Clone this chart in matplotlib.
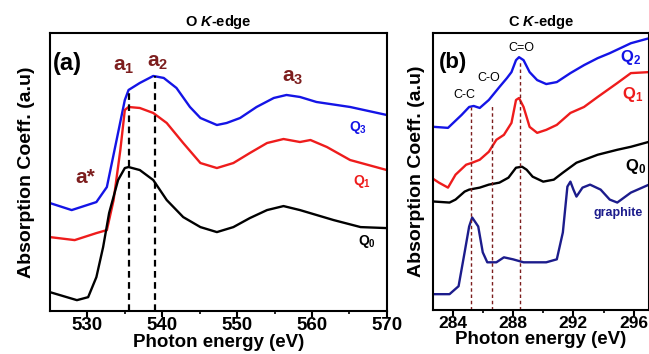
import numpy as np
import matplotlib
matplotlib.use("Agg")
import matplotlib.pyplot as plt

plt.rcParams["font.family"] = ["Liberation Sans", "DejaVu Sans"]
plt.rcParams["mathtext.fontset"] = "custom"
plt.rcParams["mathtext.rm"] = "Liberation Sans"
plt.rcParams["mathtext.bf"] = "Liberation Sans:bold"
plt.rcParams["mathtext.it"] = "Liberation Sans:italic"
plt.rcParams["mathtext.bfit"] = "Liberation Sans:italic:bold"

# ---- O K-edge (panel a) ----
e_q3 = [525.0, 527.9, 531.2, 532.6, 533.9, 535.0, 535.5, 537.0, 538.8, 540.2,
        541.9, 543.7, 545.1, 547.3, 548.6, 550.4, 552.6, 554.9, 556.6, 558.4,
        560.6, 565.1, 570.0]
a_q3 = [108, 101, 109, 124, 171, 211, 221, 228, 235, 233, 223, 204, 193, 186,
        188, 193, 204, 213, 216, 214, 209, 204, 196]

e_q1 = [525.0, 528.3, 531.2, 532.6, 533.5, 534.4, 535.0, 535.5, 537.0, 538.8,
        540.6, 542.8, 545.1, 547.3, 549.5, 551.7, 554.0, 556.2, 558.4, 559.8,
        562.0, 565.1, 570.0]
a_q1 = [74, 71, 78, 81, 111, 161, 201, 204, 203, 198, 188, 168, 148, 143, 148,
        158, 168, 172, 169, 171, 164, 151, 141]

e_q0 = [525.0, 528.6, 530.1, 531.2, 532.1, 532.9, 534.1, 535.0, 535.5, 537.0,
        538.8, 540.6, 542.8, 545.1, 547.3, 549.5, 551.7, 554.0, 556.2, 558.4,
        562.9, 566.5, 570.0]
a_q0 = [19, 11, 14, 34, 64, 98, 131, 143, 144, 141, 131, 111, 94, 84, 79, 84,
        93, 101, 105, 101, 91, 84, 83]

o_marks = [535.5, 539.0]
o_mark_tops = [219, 235]

# ---- C K-edge (panel b) ----
e_c2 = [282.8, 283.7, 284.6, 285.1, 285.4, 285.8, 286.4, 287.1, 287.6, 287.9,
        288.2, 288.4, 288.7, 289.1, 289.6, 290.2, 290.9, 291.8, 292.7, 293.6,
        294.4, 295.8, 297.0]
c_q2 = [184, 183, 196, 204, 205, 203, 211, 224, 233, 239, 251, 254, 251, 239,
        231, 227, 229, 238, 246, 253, 258, 268, 273]

e_c1 = [282.8, 283.1, 283.7, 284.2, 284.9, 285.3, 285.8, 286.4, 286.9, 287.4,
        287.9, 288.2, 288.4, 288.7, 289.1, 289.6, 290.2, 290.9, 291.8, 292.7,
        293.6, 294.9, 295.8, 297.0]
c_q1 = [131, 128, 123, 136, 146, 148, 151, 159, 171, 176, 188, 211, 213, 204,
        184, 178, 181, 186, 198, 204, 214, 228, 238, 239]

e_c0 = [282.8, 283.8, 284.2, 284.8, 285.1, 285.8, 286.4, 287.1, 287.7, 288.2,
        288.6, 288.9, 289.3, 290.0, 290.7, 291.3, 292.2, 293.6, 294.9, 295.8,
        297.0]
c_q0 = [109, 108, 111, 119, 121, 123, 126, 128, 133, 143, 144, 141, 134, 129,
        131, 138, 148, 156, 161, 164, 169]

e_gr = [282.8, 283.8, 284.4, 284.8, 285.1, 285.3, 285.7, 286.0, 286.3, 286.9,
        287.4, 288.0, 288.7, 289.6, 290.2, 290.9, 291.3, 291.6, 291.8, 292.0,
        292.2, 292.6, 293.1, 293.8, 294.4, 294.9, 295.8, 297.0]
c_gr = [16, 16, 24, 58, 84, 93, 84, 58, 48, 48, 53, 51, 48, 48, 48, 51, 78,
        124, 129, 121, 114, 123, 126, 121, 111, 108, 118, 126]

c_marks = [285.25, 286.6, 288.45]
c_mark_tops = [204, 206, 251]

BLUE = "#1414e6"
RED = "#ee1c1c"
NAVY = "#1c1c8c"
MAROON = "#7d1e1e"

fig = plt.figure(figsize=(6.49, 3.54), dpi=100)
ax1 = fig.add_axes([0.077, 0.121, 0.519, 0.786])
ax2 = fig.add_axes([0.667, 0.124, 0.333, 0.782])

lw = 1.7
ax1.plot(e_q3, a_q3, color=BLUE, lw=lw)
ax1.plot(e_q1, a_q1, color=RED, lw=lw)
ax1.plot(e_q0, a_q0, color="black", lw=lw)
for xm, ym in zip(o_marks, o_mark_tops):
    ax1.plot([xm, xm], [0, ym], color="black", lw=1.6, ls=(0, (3, 2)))

ax1.text(529.7, 134, "a*", color=MAROON, fontsize=15, fontweight="bold",
         ha="center", va="center")
ax1.text(534.9, 244, r"a$_\mathbf{1}$", color=MAROON, fontsize=15,
         fontweight="bold", ha="center", va="center")
ax1.text(539.4, 248, r"a$_\mathbf{2}$", color=MAROON, fontsize=15,
         fontweight="bold", ha="center", va="center")
ax1.text(557.4, 233, r"a$_\mathbf{3}$", color=MAROON, fontsize=15,
         fontweight="bold", ha="center", va="center")
ax1.text(566.1, 184, r"$\mathbf{Q_3}$", color=BLUE, fontsize=10,
         ha="center", va="center")
ax1.text(566.7, 130, r"$\mathbf{Q_1}$", color=RED, fontsize=10,
         ha="center", va="center")
ax1.text(567.3, 70, r"$\mathbf{Q_0}$", color="black", fontsize=10,
         ha="center", va="center")
ax1.text(0.01, 0.89, "(a)", transform=ax1.transAxes, fontsize=17,
         fontweight="bold", va="center")

ax1.set_xlim(525, 570)
ax1.set_ylim(0, 278)
ax1.set_xticks([530, 540, 550, 560, 570])
ax1.set_xticks([535, 545, 555, 565], minor=True)
ax1.set_title(r"O $\mathbfit{K}$-edge", fontsize=10.5, fontweight="bold", pad=5)

ax2.plot(e_c2, c_q2, color=BLUE, lw=lw)
ax2.plot(e_c1, c_q1, color=RED, lw=lw)
ax2.plot(e_c0, c_q0, color="black", lw=lw)
ax2.plot(e_gr, c_gr, color=NAVY, lw=lw)
for xm, ym in zip(c_marks, c_mark_tops):
    ax2.plot([xm, xm], [0, ym], color=MAROON, lw=1.0, ls=(0, (2.5, 2)))

ax2.text(284.8, 216, "C-C", fontsize=9, ha="center", va="center")
ax2.text(286.4, 233, "C-O", fontsize=9, ha="center", va="center")
ax2.text(288.55, 263, "C=O", fontsize=9, ha="center", va="center")
ax2.text(295.8, 254, r"$\mathbf{Q_2}$", color=BLUE, fontsize=12,
         ha="center", va="center")
ax2.text(295.9, 217, r"$\mathbf{Q_1}$", color=RED, fontsize=12,
         ha="center", va="center")
ax2.text(296.1, 144, r"$\mathbf{Q_0}$", color="black", fontsize=12,
         ha="center", va="center")
ax2.text(294.95, 98, "graphite", color=NAVY, fontsize=9, fontweight="bold",
         ha="center", va="center")
ax2.text(0.03, 0.895, "(b)", transform=ax2.transAxes, fontsize=16,
         fontweight="bold", va="center")

ax2.set_xlim(282.7, 297)
ax2.set_ylim(0, 278)
ax2.set_xticks([284, 288, 292, 296])
ax2.set_xticks([286, 290, 294], minor=True)
ax2.set_title(r"C $\mathbfit{K}$-edge", fontsize=10.5, fontweight="bold", pad=5)

for ax, tfs, ylp in ((ax1, 13.5, 11), (ax2, 12.5, 6)):
    ax.set_yticks([])
    for s in ax.spines.values():
        s.set_linewidth(1.5)
    ax.tick_params(axis="x", which="major", direction="out", length=4,
                   width=1.5, labelsize=tfs, pad=0)
    ax.tick_params(axis="x", which="minor", direction="out", length=2.5,
                   width=1.2)
    for lab in ax.get_xticklabels():
        lab.set_fontweight("bold")
    ax.set_xlabel("Photon energy (eV)", fontsize=13.5, fontweight="bold",
                  labelpad=0.5)
    ax.set_ylabel("Absorption Coeff. (a.u)", fontsize=14, fontweight="bold",
                  labelpad=ylp)

fig.savefig("out.png", dpi=100)
